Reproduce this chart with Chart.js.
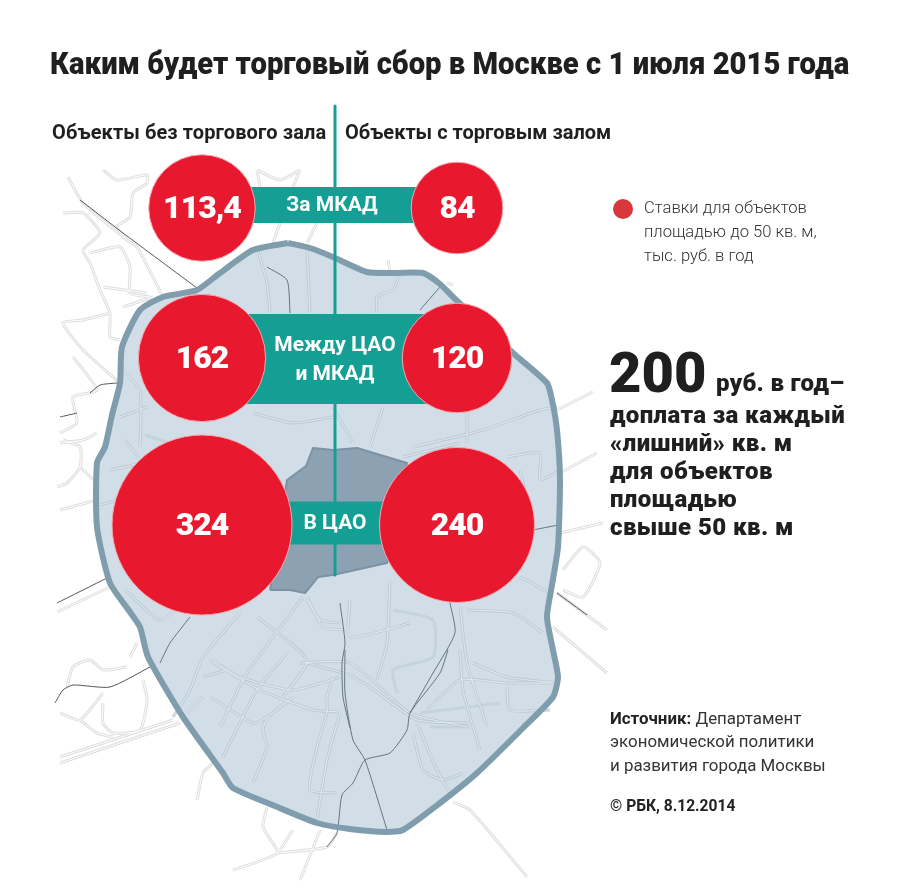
<!DOCTYPE html>
<html lang="ru">
<head>
<meta charset="utf-8">
<title>Торговый сбор в Москве</title>
<script src="https://cdn.jsdelivr.net/npm/chart.js@4/dist/chart.umd.js"></script>
<style>
    html, body { margin: 0; padding: 0; background: #fff; }
    #wrap { position: relative; width: 900px; height: 890px; overflow: hidden; }
    #map-chart { position: absolute; left: 0; top: 0; }
    .txt { position: absolute; white-space: nowrap; color: #1f1f1f; transform-origin: left top; }
    .bold { font-family: Roboto, sans-serif; font-weight: 700; }
    .heavy { font-family: Roboto, sans-serif; font-weight: 900; }
    .plain { font-family: Roboto, sans-serif; font-weight: 400; color: #333; }
</style>
</head>
<body>
<div id="wrap">
    <canvas id="map-chart" width="900" height="890"></canvas>
    <div class="txt heavy" style="left:50px;top:45px;font-size:31px;transform:scaleX(.942);">Каким будет торговый сбор в Москве с 1 июля 2015 года</div>
    <div class="txt bold" style="left:52px;top:120px;font-size:20px;letter-spacing:.1px;">Объекты без торгового зала</div>
    <div class="txt bold" style="left:345px;top:120px;font-size:20px;">Объекты с торговым залом</div>
    <div class="txt plain" style="left:644px;top:198px;font-size:16.6px;font-weight:300;">Ставки для объектов</div>
    <div class="txt plain" style="left:644px;top:222px;font-size:16.6px;font-weight:300;">площадью до 50 кв. м,</div>
    <div class="txt plain" style="left:644px;top:246px;font-size:16.6px;font-weight:300;">тыс. руб. в год</div>
    <div class="txt heavy" style="left:609px;top:340px;font-size:56px;">200</div>
    <div class="txt heavy" style="left:716px;top:369px;font-size:24px;letter-spacing:.3px;">руб. в год–</div>
    <div class="txt heavy" style="left:610px;top:401px;font-size:24px;letter-spacing:.4px;">доплата за каждый</div>
    <div class="txt heavy" style="left:610px;top:429px;font-size:24px;letter-spacing:.4px;">«лишний» кв. м</div>
    <div class="txt heavy" style="left:610px;top:457px;font-size:24px;letter-spacing:.4px;">для объектов</div>
    <div class="txt heavy" style="left:610px;top:485px;font-size:24px;letter-spacing:.4px;">площадью</div>
    <div class="txt heavy" style="left:610px;top:513px;font-size:24px;letter-spacing:.4px;">свыше 50 кв. м</div>
    <div class="txt plain" style="left:610px;top:708px;font-size:16.9px;"><b style="font-weight:700;color:#222">Источник:</b> Департамент</div>
    <div class="txt plain" style="left:610px;top:731px;font-size:16.9px;">экономической политики</div>
    <div class="txt plain" style="left:610px;top:755px;font-size:16.9px;">и развития города Москвы</div>
    <div class="txt plain" style="left:610px;top:797px;font-size:15.6px;font-weight:700;color:#222;">© РБК, 8.12.2014</div>
</div>
<script>
// Rates, thousand roubles per year
const zoneLabels = [['За МКАД'], ['Между ЦАО', 'и МКАД'], ['В ЦАО']];
const ratesNoHall = [113.4, 162, 324];
const ratesWithHall = [84, 120, 240];
const rateLabelsNoHall = ['113,4', '162', '324'];
const rateLabelsWithHall = ['84', '120', '240'];

// Map geometry, in picture units
const mkadOutline = [[288,243],[310,248],[333,257],[367,272],[395,273],[423,273],[440,284],[453,297],[480,322],[513,353],[547,383],[552,400],[557,430],[560,480],[558,547],[552,585],[547,617],[553,650],[558,677],[553,697],[523,728],[477,773],[440,803],[403,830],[387,832],[350,829],[317,823],[275,806],[233,788],[223,773],[183,717],[148,657],[140,627],[130,612],[110,583],[97,527],[97,463],[105,447],[112,415],[120,383],[122,347],[140,310],[163,297],[197,290],[220,273],[253,250],[288,243]];
const caoOutline = [[270,590],[287,480],[306,466],[313,448],[333,450],[357,448],[407,463],[387,563],[333,575],[318,577],[305,593],[290,590],[270,590]];
const innerRoads = [
    [[287,653],[257,690],[233,737],[223,757]],
    [[210,660],[220,667],[260,690],[313,710],[340,712]],
    [[307,663],[343,673]],
    [[333,677],[327,697],[327,712],[317,747],[310,790],[337,793]],
    [[340,713],[327,760],[317,820]],
    [[347,673],[370,687],[417,720],[470,723]],
    [[417,723],[437,770],[450,793]],
    [[413,733],[423,770],[443,780],[463,773]],
    [[427,710],[460,680],[507,683],[553,683]],
    [[460,650],[463,690],[480,750]],
    [[507,687],[510,710],[550,710]],
    [[267,717],[263,730],[267,747],[253,783]],
    [[210,697],[253,723],[267,717],[293,697]],
    [[203,697],[187,713]],
    [[203,677],[227,670]],
    [[350,600],[350,637],[410,623]],
    [[390,580],[387,643],[377,680]],
    [[460,607],[467,663],[487,727]],
    [[467,610],[513,613],[543,633]],
    [[300,663],[350,663],[410,713],[467,727]],
    [[473,663],[507,677],[557,683]],
    [[520,577],[550,593]],
    [[507,457],[540,453],[540,480],[560,470]],
    [[403,457],[460,443]],
    [[307,597],[323,627],[343,630]],
    [[240,613],[203,657],[190,690],[173,717]],
    [[307,600],[320,620],[340,623]],
    [[213,660],[240,677],[293,690],[340,677]],
    [[257,617],[307,660],[283,697]],
    [[303,597],[247,673],[220,727]],
    [[257,247],[267,283],[270,313]],
    [[307,250],[310,313]],
    [[123,370],[140,390],[140,447]],
    [[253,413],[293,423],[333,417]],
    [[120,417],[147,407]],
    [[377,313],[377,297],[393,290],[400,273]],
    [[333,407],[353,443]],
    [[383,407],[370,447]],
    [[413,447],[483,430],[540,410],[557,407]],
    [[467,410],[467,443]],
    [[110,470],[140,462],[125,440]],
    [[100,505],[135,495]],
    [[125,590],[160,620],[185,600]],
    [[520,470],[530,520],[520,570]]
];
const rivers = [
    [[393,610],[433,620],[433,657],[393,670],[397,693]],
    [[420,713],[500,703]],
    [[430,727],[470,727]],
    [[145,435],[175,445]]
];
const darkInnerLines = [
    [[345,650],[345,693],[353,740],[365,760],[387,830]],
    [[448,650],[440,673],[410,713],[407,730],[390,753],[365,760],[353,783],[342,795],[337,833],[327,847]],
    [[450,603],[455,633],[433,673],[410,713]],
    [[340,603],[345,643],[342,663],[343,697],[350,728]],
    [[190,617],[170,643],[160,663]],
    [[267,267],[287,280],[290,313]],
    [[420,310],[440,287]],
    [[533,530],[558,525]]
];
const outerRoads = [
    [[103,170],[117,180],[147,175],[147,183],[133,193],[130,217],[117,227],[127,240]],
    [[68,177],[83,203],[127,240],[137,247],[163,297]],
    [[63,213],[83,213],[100,233],[83,250],[90,263],[100,290],[110,313],[110,337],[120,340]],
    [[90,253],[120,247],[130,267],[130,293],[150,297]],
    [[103,287],[147,293]],
    [[110,313],[83,320],[63,323],[83,350],[120,383]],
    [[123,307],[153,297]],
    [[73,357],[97,390],[73,397],[77,423],[60,433]],
    [[60,443],[83,440],[97,433]],
    [[63,440],[80,447],[80,467],[67,483],[57,487]],
    [[80,467],[97,483]],
    [[60,510],[97,500]],
    [[57,612],[110,587]],
    [[67,687],[73,667],[90,660],[103,670],[127,667]],
    [[130,657],[137,643]],
    [[103,703],[103,723],[113,733],[140,730],[147,700],[143,680]],
    [[103,693],[80,720],[60,713]],
    [[80,720],[97,733],[113,737]],
    [[60,763],[180,723]],
    [[60,757],[173,720]],
    [[197,800],[203,773],[213,763]],
    [[267,807],[263,827],[277,853],[233,870]],
    [[277,853],[327,847],[337,833]],
    [[300,880],[307,863],[320,830]],
    [[293,830],[280,850]],
    [[453,802],[470,810],[527,877]],
    [[560,473],[597,453]],
    [[557,410],[593,392]],
    [[560,533],[603,523]],
    [[557,593],[607,630]],
    [[553,627],[607,673]],
    [[563,570],[583,547],[600,563],[583,597],[563,590]],
    [[257,170],[280,180],[300,170]],
    [[257,170],[260,187]],
    [[300,170],[293,187]],
    [[317,223],[307,243]],
    [[280,223],[273,243]],
    [[388,260],[390,272]],
    [[447,283],[453,285]]
];
const darkOuterLines = [
    [[80,200],[123,233],[197,288]],
    [[90,393],[100,385],[117,383]],
    [[60,417],[77,413]],
    [[57,603],[107,578]],
    [[150,667],[110,687],[73,685],[63,690],[55,703]],
    [[557,593],[587,615]]
];

// Layout of the rows and columns
const columnX = [202, 457];
const rowY = [208, 358, 525];
const bandY = [205, 359, 523];
const bandHeight = [36, 90, 43];
const bandLabelX = [332, 335, 335];
const axisLine = [[335,106],[335,575]];
const legendPoint = [[623,209]];
const radiusPerRootUnit = 5;

const colors = {
    red: '#e8192e',
    teal: '#149f95',
    legend: '#d8373c',
    mkadFill: '#d1dee7',
    mkadLine: '#7f9dad',
    cao: '#8ca1b2',
    caoLine: '#7b93a5',
    roadCasing: '#bccad4',
    roadInner: '#dce6ed',
    river: '#c5d3dc',
    outerCasing: '#dedede',
    darkInner: '#65757f',
    darkOuter: '#555555'
};

function toPoints(list) {
    return list.map(p => ({ x: p[0], y: p[1] }));
}

function lineSet(list, color, width, extra) {
    return Object.assign({
        type: 'line',
        data: toPoints(list),
        borderColor: color,
        borderWidth: width,
        pointRadius: 0,
        tension: 0,
        fill: false,
        borderJoinStyle: 'round'
    }, extra || {});
}

function rateBubbles(rates, x) {
    return rates.map((v, i) => ({ x: x, y: rowY[i], r: radiusPerRootUnit * Math.sqrt(v) }));
}

// Back to front
const curved = { tension: 0.2 };
const datasets = [];
outerRoads.forEach(r => datasets.push(lineSet(r, colors.outerCasing, 3, curved)));
outerRoads.forEach(r => datasets.push(lineSet(r, '#ffffff', 1, curved)));
darkOuterLines.forEach(r => datasets.push(lineSet(r, colors.darkOuter, 1, curved)));
datasets.push(lineSet(mkadOutline, 'transparent', 0, { fill: 'shape', backgroundColor: colors.mkadFill, tension: 0.2 }));
rivers.forEach(r => datasets.push(lineSet(r, colors.river, 3, curved)));
innerRoads.forEach(r => datasets.push(lineSet(r, colors.roadCasing, 3, curved)));
innerRoads.forEach(r => datasets.push(lineSet(r, colors.roadInner, 1.2, curved)));
darkInnerLines.forEach(r => datasets.push(lineSet(r, colors.darkInner, 1, curved)));
datasets.push(lineSet(caoOutline, colors.caoLine, 2, { fill: 'shape', backgroundColor: colors.cao }));
datasets.push(lineSet(mkadOutline, colors.mkadLine, 6, curved));
datasets.push(lineSet(axisLine, colors.teal, 3));
zoneLabels.forEach((z, i) => {
    datasets.push(lineSet([[columnX[0], bandY[i]], [columnX[1], bandY[i]]], colors.teal, bandHeight[i], { borderCapStyle: 'butt' }));
});
const bubbleBase = { type: 'bubble', backgroundColor: colors.red, borderColor: '#f7a9ae', borderWidth: 1 };
datasets.push(Object.assign({ label: 'Без торгового зала', data: rateBubbles(ratesNoHall, columnX[0]), rateLabels: rateLabelsNoHall }, bubbleBase));
datasets.push(Object.assign({ label: 'С торговым залом', data: rateBubbles(ratesWithHall, columnX[1]), rateLabels: rateLabelsWithHall }, bubbleBase));
datasets.push({ type: 'bubble', data: toPoints(legendPoint).map(p => ({ x: p.x, y: p.y, r: 10 })), backgroundColor: colors.legend, borderWidth: 0 });
datasets.forEach((d, i) => { d.order = datasets.length - i; });

// Value labels on the circles, zone names on the bands
const labelsPlugin = {
    id: 'mapLabels',
    afterDatasetsDraw(chart) {
        const c = chart.ctx;
        const sx = chart.scales.x;
        const sy = chart.scales.y;
        c.save();
        c.fillStyle = '#ffffff';
        c.textAlign = 'center';
        c.textBaseline = 'middle';
        c.font = '900 32px Roboto, sans-serif';
        c.letterSpacing = '-1px';
        chart.data.datasets.forEach(d => {
            if (!d.rateLabels) return;
            d.rateLabels.forEach((t, i) => {
                c.fillText(t, sx.getPixelForValue(d.data[i].x), sy.getPixelForValue(d.data[i].y) + 2);
            });
        });
        c.font = '700 21px Roboto, sans-serif';
        c.letterSpacing = '0px';
        zoneLabels.forEach((lines, i) => {
            lines.forEach((t, j) => {
                const offset = (j - (lines.length - 1) / 2) * 29;
                c.fillText(t, sx.getPixelForValue(bandLabelX[i]), sy.getPixelForValue(bandY[i]) + offset + 1);
            });
        });
        c.restore();
    }
};

new Chart(document.getElementById('map-chart').getContext('2d'), {
    data: { datasets: datasets },
    options: {
        responsive: false,
        animation: false,
        devicePixelRatio: 1,
        layout: { padding: 0, autoPadding: false },
        plugins: { legend: { display: false }, tooltip: { enabled: false } },
        scales: {
            x: { type: 'linear', min: 0, max: 900, display: false },
            y: { type: 'linear', min: 0, max: 890, reverse: true, display: false }
        }
    },
    plugins: [labelsPlugin]
});
</script>
</body>
</html>
